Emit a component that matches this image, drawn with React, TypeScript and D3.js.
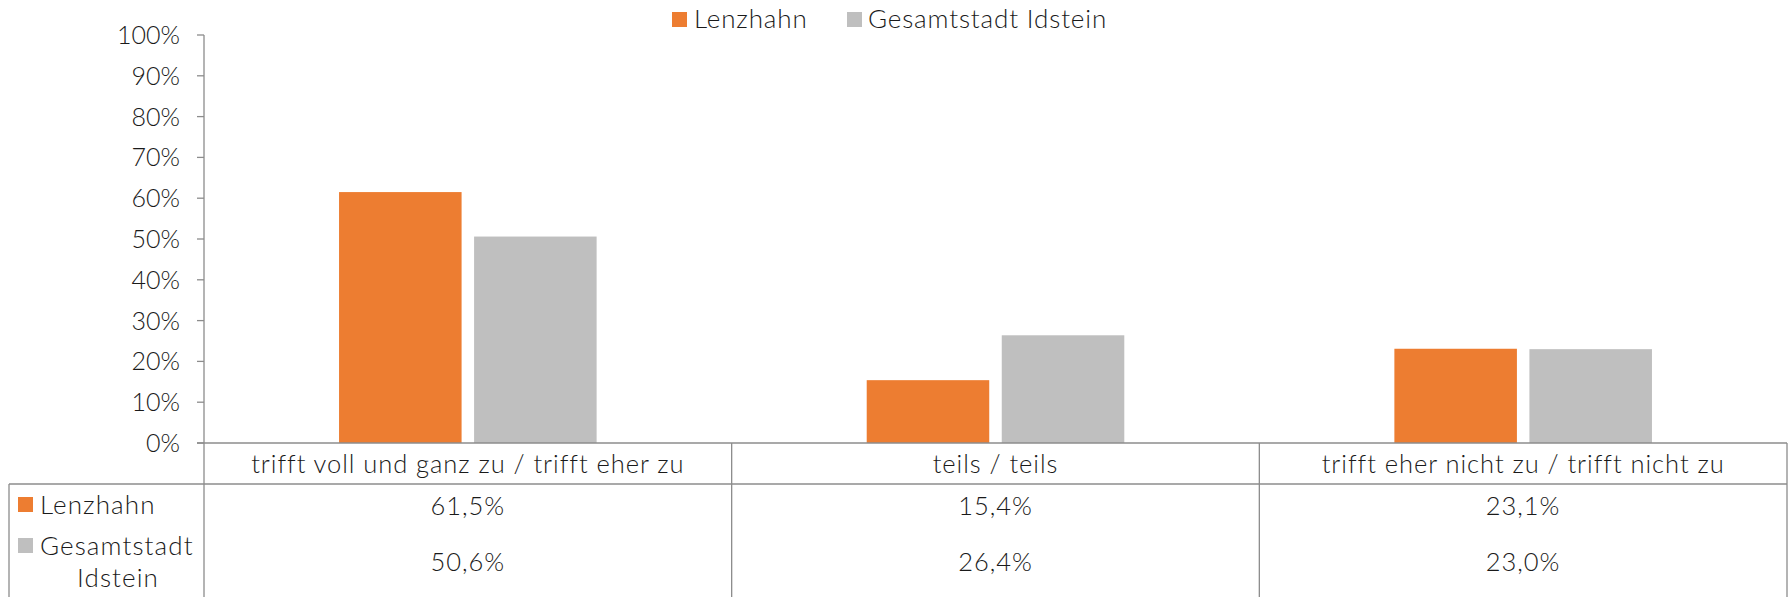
import React from "react";
import * as d3 from "d3";

const categories = [
  "trifft voll und ganz zu / trifft eher zu",
  "teils / teils",
  "trifft eher nicht zu / trifft nicht zu",
];
const seriesNames = ["Lenzhahn", "Gesamtstadt Idstein"];
const lenzhahn = [0.615, 0.154, 0.231];
const gesamtstadt = [0.506, 0.264, 0.23];
const yTicks = [0, 0.1, 0.2, 0.3, 0.4, 0.5, 0.6, 0.7, 0.8, 0.9, 1.0];
const colors = ["#ED7D31", "#BFBFBF"];

const W = 1788;
const H = 597;
const FONT = "Lato, 'Noto Sans', sans-serif";
const TXT = "#1a1a1a";
const LINE = "#8c8c8c";

const locale = d3.formatLocale({
  decimal: ",",
  thousands: ".",
  grouping: [3],
  currency: ["", "€"],
});
const pct1 = locale.format(".1%");
const pct0 = locale.format(".0%");

export default function App() {
  const series = [lenzhahn, gesamtstadt];
  const left = 204;
  const right = 1787;
  const y = d3.scaleLinear().domain([0, 1]).range([443, 35]);
  const x = d3.scaleBand<string>().domain(categories).range([left, right]).padding(0);
  const xi = d3
    .scaleBand<string>()
    .domain(seriesNames)
    .range([0, x.bandwidth()])
    .paddingInner(0.0926)
    .paddingOuter(1);

  const headerTop = 443;
  const headerBottom = 484;
  const rowY = [506, 562];
  const fs = 25.5;
  const fsTick = 25;
  const fsLeg = 26;
  const ls = 0.85;
  const lsRow = 1.1;
  const lsCell = 0.95;
  const fw = 300;

  return (
    <svg
      width={W}
      height={H}
      style={{ position: "absolute", left: 0, top: 0, background: "#fff" }}
      fontFamily={FONT}
      fontWeight={fw}
    >
      {/* legend */}
      <g>
        <rect x={672} y={12} width={15} height={15} fill={colors[0]} />
        <text x={694} y={28} fontSize={fsLeg} letterSpacing={ls} fill={TXT}>
          {seriesNames[0]}
        </text>
        <rect x={847} y={12} width={15} height={15} fill={colors[1]} />
        <text x={868} y={28} fontSize={fsLeg} letterSpacing={ls} fill={TXT}>
          {seriesNames[1]}
        </text>
      </g>

      {/* y axis */}
      <line x1={left} x2={left} y1={y(1)} y2={H} stroke={LINE} strokeWidth={1.3} />
      {yTicks.map((t) => (
        <g key={t}>
          <line x1={197} x2={left} y1={y(t)} y2={y(t)} stroke={LINE} strokeWidth={1.3} />
          <text
            x={180}
            y={y(t)}
            dy="0.36em"
            textAnchor="end"
            fontSize={fsTick}
            fill={TXT}
          >
            {pct0(t)}
          </text>
        </g>
      ))}

      {/* bars */}
      {categories.map((c, i) => (
        <g key={c} transform={`translate(${x(c)},0)`}>
          {series.map((s, j) => (
            <rect
              key={j}
              x={xi(seriesNames[j])}
              y={y(s[i])}
              width={xi.bandwidth()}
              height={y(0) - y(s[i])}
              fill={colors[j]}
            />
          ))}
        </g>
      ))}

      {/* data table */}
      <line x1={197} x2={right} y1={headerTop} y2={headerTop} stroke={LINE} strokeWidth={1.3} />
      <line x1={9} x2={right} y1={headerBottom} y2={headerBottom} stroke={LINE} strokeWidth={1.3} />
      <line x1={9} x2={9} y1={headerBottom} y2={H} stroke={LINE} strokeWidth={1.3} />
      {categories.map((c) => (
        <line
          key={c}
          x1={(x(c) as number) + x.bandwidth()}
          x2={(x(c) as number) + x.bandwidth()}
          y1={headerTop}
          y2={H}
          stroke={LINE}
          strokeWidth={1.3}
        />
      ))}
      {categories.map((c, i) => {
        const cx = (x(c) as number) + x.bandwidth() / 2;
        return (
          <g key={c}>
            <text
              x={cx}
              y={(headerTop + headerBottom) / 2}
              dy="0.36em"
              textAnchor="middle"
              fontSize={fs}
              letterSpacing={lsCell}
              fill={TXT}
            >
              {c}
            </text>
            {series.map((s, j) => (
              <text
                key={j}
                x={cx}
                y={rowY[j]}
                dy="0.36em"
                textAnchor="middle"
                fontSize={fs}
                letterSpacing={lsCell}
                fill={TXT}
              >
                {pct1(s[i])}
              </text>
            ))}
          </g>
        );
      })}

      {/* row legend */}
      <rect x={18} y={497} width={15} height={15} fill={colors[0]} />
      <text x={40} y={514} fontSize={fsLeg} letterSpacing={lsRow} fill={TXT}>
        {seriesNames[0]}
      </text>
      <rect x={18} y={538} width={15} height={15} fill={colors[1]} />
      <text x={40} y={555} fontSize={fsLeg} letterSpacing={lsRow} fill={TXT}>
        {seriesNames[1].split(" ")[0]}
      </text>
      <text x={118} y={587} textAnchor="middle" fontSize={fsLeg} letterSpacing={lsRow} fill={TXT}>
        {seriesNames[1].split(" ")[1]}
      </text>
    </svg>
  );
}
